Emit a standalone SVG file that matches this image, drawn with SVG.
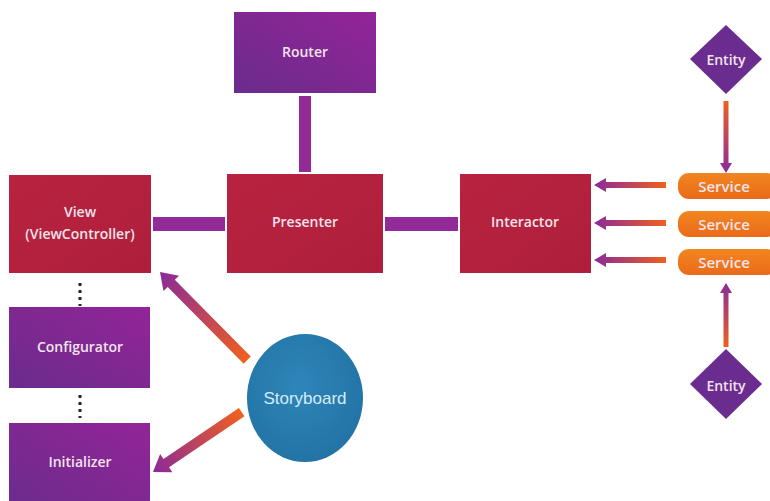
<svg xmlns="http://www.w3.org/2000/svg" width="770" height="501" viewBox="0 0 770 501">
  <defs>
    <linearGradient id="gRed" x1="0" y1="0" x2="1" y2="1">
      <stop offset="0" stop-color="#B8233F"/>
      <stop offset="1" stop-color="#AE1F3C"/>
    </linearGradient>
    <linearGradient id="gPurple" x1="0" y1="1" x2="1" y2="0">
      <stop offset="0" stop-color="#6A2C8C"/>
      <stop offset="1" stop-color="#932498"/>
    </linearGradient>
    <linearGradient id="gOrange" x1="0" y1="0" x2="0" y2="1">
      <stop offset="0" stop-color="#F2861F"/>
      <stop offset="1" stop-color="#EA6A1A"/>
    </linearGradient>
    <radialGradient id="gBlue" cx="0.45" cy="0.4" r="0.6">
      <stop offset="0" stop-color="#2E86B8"/>
      <stop offset="1" stop-color="#2373A6"/>
    </radialGradient>
    <!-- arrow shading: tail orange, tip purple -->
    <linearGradient id="gArrow" x1="0" y1="0" x2="1" y2="0">
      <stop offset="0" stop-color="#F0601E"/>
      <stop offset="1" stop-color="#8A2A9A"/>
    </linearGradient>
    <style>
      .box-red { fill: url(#gRed); }
      .box-purple { fill: url(#gPurple); }
      .label { font-family: "Open Sans", "Noto Sans", "DejaVu Sans", sans-serif; font-size: 14px; font-weight: 600; fill: #F3E4EC; text-anchor: middle; dominant-baseline: central; }
      .svc { font-size: 15px; }
      .bar { fill: #922A97; }
      .arrow { fill: url(#gArrow); }
      .dots { stroke: #222; stroke-width: 3; stroke-dasharray: 3 4; fill: none; }
    </style>
  </defs>

  <rect width="770" height="501" fill="#FFFFFF"/>

  <!-- connectors -->
  <g id="connectors">
    <rect class="bar" x="153" y="217" width="72" height="14"/>
    <rect class="bar" x="299" y="96" width="12" height="76"/>
    <rect class="bar" x="385" y="217" width="73" height="14"/>
    <line class="dots" x1="80" y1="283" x2="80" y2="306"/>
    <line class="dots" x1="80" y1="395" x2="80" y2="418"/>
    <!-- services to interactor -->
    <path class="arrow" transform="translate(594 185) rotate(180)" d="M -72 -3 H -12 V -7 L 0 0 L -12 7 V 3 H -72 Z"/>
    <path class="arrow" transform="translate(594 223) rotate(180)" d="M -72 -3 H -12 V -7 L 0 0 L -12 7 V 3 H -72 Z"/>
    <path class="arrow" transform="translate(594 260) rotate(180)" d="M -72 -3 H -12 V -7 L 0 0 L -12 7 V 3 H -72 Z"/>
    <!-- entities to services -->
    <path class="arrow" transform="translate(726 173) rotate(90)" d="M -72 -2.5 H -10 V -6 L 0 0 L -10 6 V 2.5 H -72 Z"/>
    <path class="arrow" transform="translate(726 283) rotate(-90)" d="M -64 -2.5 H -10 V -6 L 0 0 L -10 6 V 2.5 H -64 Z"/>
    <!-- storyboard links -->
    <path class="arrow" transform="translate(160 272) rotate(-134.7)" d="M -124 -5 H -16 V -11 L 0 0 L -16 11 V 5 H -124 Z"/>
    <path class="arrow" transform="translate(153 472) rotate(146)" d="M -107 -5 H -16 V -11 L 0 0 L -16 11 V 5 H -107 Z"/>
  </g>

  <g id="router">
    <rect class="box-purple" x="234" y="12" width="142" height="81"/>
    <text class="label" x="305" y="51">Router</text>
  </g>

  <g id="view">
    <rect class="box-red" x="9" y="175" width="142" height="98"/>
    <text class="label" x="80" y="211">View</text>
    <text class="label" x="80" y="233">(ViewController)</text>
  </g>

  <g id="presenter">
    <rect class="box-red" x="227" y="174" width="156" height="99"/>
    <text class="label" x="305" y="221">Presenter</text>
  </g>

  <g id="interactor">
    <rect class="box-red" x="460" y="174" width="131" height="99"/>
    <text class="label" x="525" y="221">Interactor</text>
  </g>

  <g id="configurator">
    <rect class="box-purple" x="9" y="307" width="141" height="81"/>
    <text class="label" x="80" y="346">Configurator</text>
  </g>

  <g id="initializer">
    <rect class="box-purple" x="9" y="423" width="141" height="90"/>
    <text class="label" x="80" y="461">Initializer</text>
  </g>

  <g id="storyboard">
    <ellipse cx="305" cy="398" rx="58" ry="64" fill="url(#gBlue)"/>
    <text x="305" y="398" font-family="'Liberation Sans', Arial, sans-serif" font-size="17" fill="#D6ECF6" text-anchor="middle" dominant-baseline="central">Storyboard</text>
  </g>

  <g id="service-1">
    <rect x="678" y="173" width="100" height="26" rx="11" fill="url(#gOrange)"/>
    <text class="label svc" x="724" y="186">Service</text>
  </g>
  <g id="service-2">
    <rect x="678" y="211" width="100" height="26" rx="11" fill="url(#gOrange)"/>
    <text class="label svc" x="724" y="224">Service</text>
  </g>
  <g id="service-3">
    <rect x="678" y="249" width="100" height="26" rx="11" fill="url(#gOrange)"/>
    <text class="label svc" x="724" y="262">Service</text>
  </g>

  <g id="entity-top">
    <polygon points="726,25 762,59 726,94 690,59" fill="#6A2C8E"/>
    <text class="label" x="726" y="59">Entity</text>
  </g>

  <g id="entity-bottom">
    <polygon points="726,349 762,384 726,419 690,384" fill="#6A2C8E"/>
    <text class="label" x="726" y="385">Entity</text>
  </g>
</svg>
